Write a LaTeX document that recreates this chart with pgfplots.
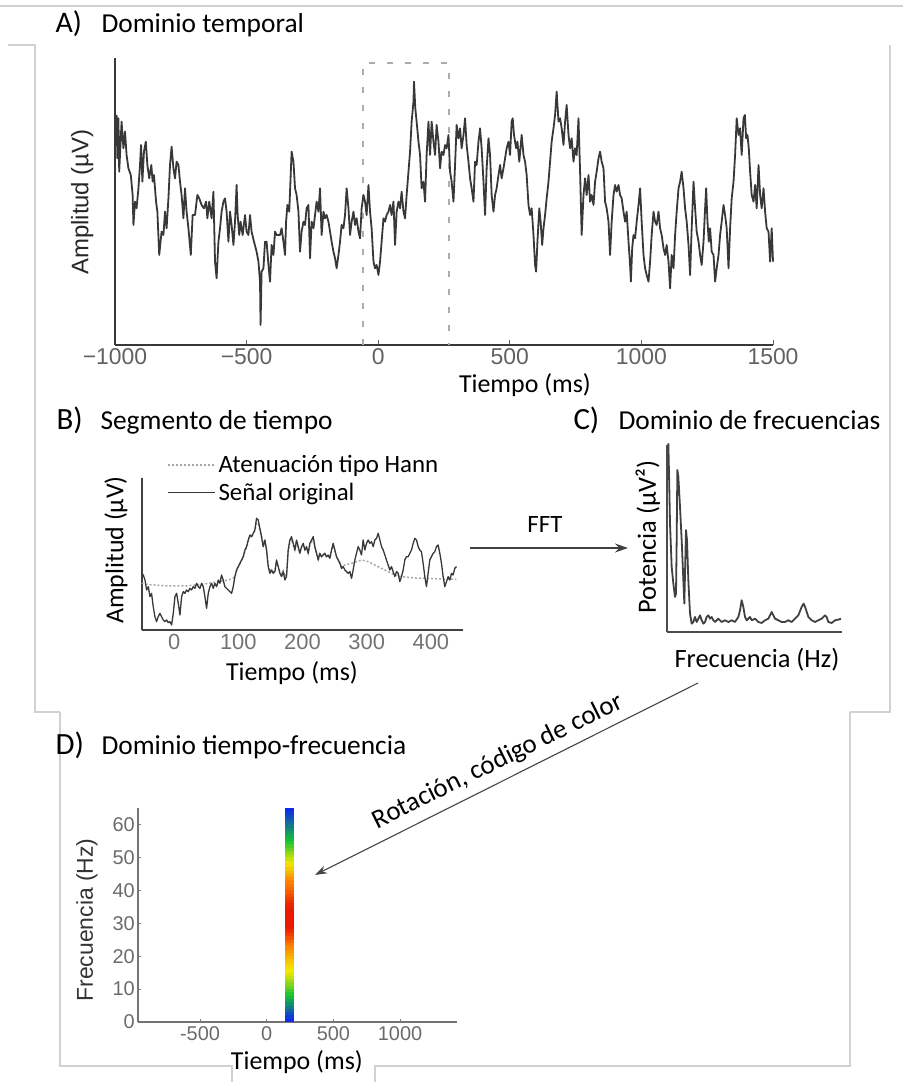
\documentclass[border=0pt]{standalone}
\usepackage{pgfplots}
\pgfplotsset{compat=1.18}
\usepackage{fontspec}
\setmainfont{Carlito}
\newfontfamily\arial{Liberation Sans}
\usetikzlibrary{arrows.meta}

\pgfplotstableread{
t a
-994 690
-991 560
-987 680
-984 520
-975 670
-968 590
-962 640
-956 570
-949 530
-940 510
-933 450
-930 360
-924 430
-918 410
-911 470
-905 540
-901 600
-896 490
-890 580
-883 610
-877 540
-870 500
-862 540
-857 490
-852 510
-844 430
-839 400
-832 270
-823 340
-816 330
-810 400
-804 350
-797 440
-791 540
-785 595
-778 530
-772 500
-766 550
-759 540
-753 490
-747 450
-740 380
-734 470
-728 400
-721 350
-712 270
-705 390
-696 390
-687 450
-680 440
-671 420
-662 410
-654 430
-649 380
-642 430
-633 380
-626 460
-620 250
-614 200
-607 310
-601 350
-595 400
-588 430
-582 440
-576 400
-569 310
-563 400
-557 360
-550 300
-544 370
-538 480
-534 390
-528 330
-523 370
-515 330
-506 390
-500 340
-493 330
-487 390
-481 340
-472 310
-462 280
-455 250
-449 190
-447 60
-443 220
-436 230
-430 310
-424 310
-417 240
-411 190
-405 300
-398 270
-392 340
-386 330
-373 330
-367 350
-360 310
-354 270
-350 370
-345 420
-338 400
-332 520
-329 580
-322 550
-316 470
-310 450
-303 400
-297 280
-291 340
-284 370
-278 360
-272 410
-265 420
-259 260
-253 370
-246 350
-240 390
-234 430
-227 400
-221 470
-215 330
-208 400
-202 380
-196 390
-189 370
-183 340
-177 310
-170 280
-164 260
-158 230
-151 270
-145 310
-139 360
-132 350
-126 390
-120 470
-113 410
-107 330
-101 370
-94 400
-88 360
-82 380
-75 340
-69 320
-63 410
-56 450
-50 430
-44 390
-37 480
-31 400
-25 350
-18 250
-12 230
-6 240
1 210
7 250
13 310
20 380
26 370
32 390
39 400
45 420
51 390
58 430
64 300
70 400
77 430
83 410
89 460
96 400
102 380
108 450
115 520
121 580
127 670
134 730
136 790
141 710
146 670
153 610
159 570
165 470
172 490
178 430
184 570
191 670
197 570
203 670
210 610
216 570
222 660
229 610
235 530
241 580
248 570
254 600
260 590
267 630
273 520
279 490
286 430
292 540
298 660
305 620
311 650
317 590
324 630
330 680
336 600
343 550
349 500
355 470
362 430
368 550
374 540
381 610
387 650
393 590
400 490
406 390
412 530
419 620
425 570
431 450
438 400
444 450
450 470
457 510
463 540
469 500
476 530
482 560
488 590
495 610
501 570
507 670
511 680
516 630
524 590
529 610
536 550
545 630
552 570
558 550
564 510
571 420
577 390
583 410
590 330
596 240
600 220
605 310
612 410
617 370
623 300
628 350
634 390
640 440
647 490
653 550
659 610
666 650
672 690
678 760
685 670
691 680
697 650
704 600
710 670
716 720
723 630
729 590
735 620
742 550
748 590
754 570
761 680
767 520
773 330
780 450
786 500
792 450
799 510
805 430
811 450
818 420
824 490
830 520
837 560
843 580
849 550
856 530
862 430
868 410
875 370
881 270
887 370
894 450
900 480
906 460
913 480
919 450
925 440
932 400
938 370
944 400
951 310
957 240
960 190
965 290
970 330
976 320
982 370
989 420
995 470
1001 370
1008 270
1014 230
1020 210
1027 190
1033 250
1039 330
1046 400
1052 370
1058 360
1065 400
1071 350
1077 330
1084 290
1090 270
1096 300
1103 250
1109 170
1115 270
1122 230
1128 330
1134 400
1141 470
1147 490
1153 520
1160 470
1166 410
1172 370
1179 300
1185 210
1191 350
1198 490
1204 410
1210 340
1217 310
1223 270
1229 240
1236 310
1242 410
1246 470
1251 370
1256 310
1261 350
1267 280
1274 270
1280 190
1286 230
1293 270
1299 330
1305 370
1312 420
1318 390
1324 350
1331 230
1337 350
1343 440
1350 490
1356 570
1362 680
1369 630
1375 650
1381 570
1388 680
1393 690
1398 620
1403 630
1408 590
1413 520
1419 450
1426 430
1432 480
1438 410
1445 540
1451 450
1457 410
1464 470
1470 400
1476 350
1483 340
1489 250
1495 350
1500 250
}\sigA

\pgfplotstableread{
t a
-50.6 170
-48.0 165
-45.4 150
-42.8 120
-40.2 130
-37.6 100
-35.1 110
-32.5 70
-29.9 40
-27.3 25
-24.7 40
-22.1 50
-19.5 40
-16.9 30
-14.3 25
-11.7 30
-9.1 22
-6.5 25
-3.9 15
-1.3 50
1.3 100
3.9 110
6.5 80
9.1 45
11.7 100
14.3 115
16.9 110
19.4 120
22.0 115
24.6 125
27.2 120
29.8 130
32.4 125
35.0 140
37.6 130
40.2 125
42.8 140
45.4 130
48.0 100
50.6 65
53.2 110
55.8 130
58.4 140
61.0 125
63.6 140
66.2 130
68.8 150
71.3 140
73.9 165
76.5 150
79.1 130
81.7 125
84.3 120
86.9 115
89.5 110
92.1 130
94.7 160
97.3 180
99.9 190
102.5 200
105.1 210
107.7 220
110.3 240
112.9 250
115.5 270
118.1 285
120.7 280
123.2 290
125.8 300
128.4 335
131.0 330
133.6 305
136.2 280
138.8 250
141.4 270
144.0 240
146.6 190
149.2 170
151.8 180
154.4 170
157.0 175
159.6 210
162.2 190
164.8 170
167.4 160
170.0 175
172.6 150
175.1 160
177.7 240
180.3 270
182.9 280
185.5 260
188.1 240
190.7 270
193.3 250
195.9 230
198.5 250
201.1 260
203.7 240
206.3 250
208.9 230
211.5 260
214.1 270
216.7 280
219.3 250
221.9 230
224.5 210
227.0 230
229.6 220
232.2 225
234.8 230
237.4 220
240.0 225
242.6 215
245.2 240
247.8 260
250.4 240
253.0 220
255.6 210
258.2 200
260.8 185
263.4 190
266.0 180
268.6 175
271.2 170
273.8 175
276.4 155
278.9 180
281.5 210
284.1 230
286.7 250
289.3 240
291.9 225
294.5 270
297.1 240
299.7 260
302.3 270
304.9 260
307.5 265
310.1 250
312.7 270
315.3 275
317.9 290
320.5 270
323.1 250
325.7 240
328.3 225
330.8 210
333.4 195
336.0 180
338.6 190
341.2 175
343.8 160
346.4 175
349.0 170
351.6 145
354.2 160
356.8 180
359.4 210
362.0 220
364.6 220
367.2 230
369.8 240
372.4 260
375.0 275
377.6 270
380.2 250
382.7 240
385.3 235
387.9 200
390.5 160
393.1 130
395.7 170
398.3 210
400.9 220
403.5 230
406.1 235
408.7 250
411.3 255
413.9 230
416.5 200
419.1 160
421.7 130
424.3 145
426.9 160
429.5 150
432.1 170
434.6 165
437.2 185
439.8 190
}\sigB

\pgfplotstableread{
t a
-50.6 140
-40.0 136
-29.9 135
-9.1 132
16.9 132
42.8 137
63.6 143
84.3 150
92.1 155
94.7 160
97.3 178
99.9 188
102.5 198
105.1 208
107.7 218
110.3 236
112.9 248
115.5 265
118.1 280
120.7 280
123.2 288
125.8 298
128.4 320
131.0 318
133.6 300
136.2 280
138.8 255
141.4 265
144.0 240
146.6 195
149.2 175
151.8 182
154.4 175
157.0 178
159.6 205
162.2 192
164.8 175
167.4 168
170.0 178
172.6 160
175.1 168
177.7 235
180.3 262
182.9 272
185.5 255
188.1 240
190.7 262
193.3 248
195.9 232
198.5 248
201.1 255
203.7 240
206.3 246
208.9 230
211.5 255
214.1 263
216.7 272
219.3 248
221.9 230
224.5 212
227.0 228
229.6 220
232.2 224
234.8 228
237.4 220
240.0 224
242.6 215
245.2 236
247.8 252
250.4 236
253.0 220
255.6 210
258.2 202
260.8 190
266.0 195
276.4 200
284.1 205
291.9 210
302.3 205
312.7 195
323.1 185
333.4 175
343.8 165
354.2 160
364.6 158
375.0 156
395.7 155
416.5 153
439.8 152
}\hannB

\pgfplotstableread{
f p
4 565
6 475
9 325
14 195
19 145
24 105
27 115
29 275
31 485
34 465
39 375
44 275
49 155
52 85
54 175
57 305
60 275
64 155
69 55
74 25
79 30
84 45
89 30
94 40
99 50
104 35
109 25
114 30
119 45
124 50
129 40
134 45
139 35
144 30
149 35
154 40
159 35
164 30
174 35
184 30
194 35
204 30
214 45
219 65
224 95
229 75
234 45
239 35
244 40
249 45
254 35
264 40
274 30
284 27
294 35
304 40
314 60
319 50
324 40
334 35
344 30
354 30
364 35
374 30
384 40
394 50
404 75
410 85
416 70
424 45
434 35
444 30
454 35
464 40
474 50
479 45
484 30
494 27
504 35
514 37
522 40
}\specC

\begin{document}
\begin{tikzpicture}[x=1bp,y=1bp]
\path[use as bounding box] (0,0) rectangle (903,1082);

% faint panel frames
\begin{scope}[draw=black!18, line width=1.2bp]
\draw (0,1076) -- (903,1076);
\draw (8,1037) -- (35,1037) -- (35,370) -- (60,370);
\draw (890,1037) -- (890,370) -- (850,370);
\draw (60,370) -- (60,16) -- (232,16) -- (232,0);
\draw (375,0) -- (375,16) -- (850,16) -- (850,370);
\end{scope}

% ---------------- Panel A ----------------
\node[anchor=base west, font=\fontsize{30}{32}\selectfont] at (52,1049) {A)};
\node[anchor=base west, font=\fontsize{27.5}{30}\selectfont] at (98,1049) {Dominio temporal};
\begin{axis}[
  at={(115bp,737bp)}, anchor=south west,
  scale only axis, width=658bp, height=287bp,
  xmin=-1000, xmax=1500, ymin=0, ymax=861,
  axis x line*=bottom, axis y line*=left,
  axis line style={draw=black!78, line width=1.5bp},
  xtick={-1000,-500,0,500,1000,1500},
  xticklabels={−1000,−500,0,500,1000,1500},
  ytick=\empty,
  tick align=inside, major tick length=5bp,
  tick style={draw=black!60, line width=1bp},
  xticklabel style={font=\arial\fontsize{23}{26}\selectfont, text=black!62, inner sep=3bp},
  xlabel={Tiempo (ms)},
  xlabel style={at={(axis description cs:0.623,-0.139)}, anchor=center, font=\fontsize{26}{30}\selectfont},
  ylabel={Amplitud (µV)},
  ylabel style={at={(axis description cs:-0.050,0.498)}, anchor=center, font=\arial\fontsize{24}{28}\selectfont, text=black!85},
  clip=false,
]
\addplot[draw=black!32, line width=1.2bp, dash pattern=on 6bp off 12bp]
  coordinates {(-58,0) (-58,846) (269,846) (269,0)};
\addplot[draw=black!78, line width=1.8bp, line join=round] table[x=t,y=a] {\sigA};
\end{axis}

% ---------------- Panel B ----------------
\node[anchor=base west, font=\fontsize{31}{33}\selectfont] at (53,652) {B)};
\node[anchor=base west, font=\fontsize{27.5}{30}\selectfont] at (97,652) {Segmento de tiempo};
\begin{axis}[
  at={(142bp,452bp)}, anchor=south west,
  scale only axis, width=321bp, height=152bp,
  xmin=-50, xmax=450, ymin=0, ymax=456,
  axis x line*=bottom, axis y line*=left,
  axis line style={draw=black!75, line width=1.5bp},
  xtick={0,100,200,300,400},
  xticklabels={0,100,200,300,400},
  ytick=\empty, major tick length=0bp,
  xticklabel style={font=\arial\fontsize{22}{26}\selectfont, text=black!55, inner sep=4bp},
  xlabel={Tiempo (ms)},
  xlabel style={at={(axis description cs:0.467,-0.283)}, anchor=center, font=\fontsize{26}{30}\selectfont},
  ylabel={Amplitud (µV)},
  ylabel style={at={(axis description cs:-0.081,0.526)}, anchor=center, font=\fontsize{26}{30}\selectfont},
  legend style={at={(axis description cs:0.079,1.165)}, anchor=north west, draw=none, fill=none,
    font=\fontsize{25}{27}\selectfont, row sep=4bp, inner sep=0bp, nodes={inner sep=2.5bp}},
  legend cell align=left,
  legend image code/.code={\draw[#1] (0bp,0bp) -- (47bp,0bp);},
  clip=false,
]
\addplot[draw=black!35, line width=1.5bp, dash pattern=on 2bp off 2bp] table[x=t,y=a] {\hannB};
\addlegendentry{Atenuación tipo Hann}
\addplot[draw=black!78, line width=1.3bp, line join=round] table[x=t,y=a] {\sigB};
\addlegendentry{Señal original}
\end{axis}

% FFT arrow
\draw[-{Stealth[length=13bp,width=9bp]}, line width=1.3bp, draw=black!75, fill=black!75] (470,534) -- (628,534);
\node[font=\fontsize{25}{28}\selectfont] at (545,557) {FFT};

% ---------------- Panel C ----------------
\node[anchor=base west, font=\fontsize{31}{33}\selectfont] at (570,652) {C)};
\node[anchor=base west, font=\fontsize{27.5}{30}\selectfont] at (615,652) {Dominio de frecuencias};
\begin{axis}[
  at={(667bp,450bp)}, anchor=south west,
  scale only axis, width=175bp, height=187bp,
  xmin=0, xmax=525, ymin=0, ymax=560,
  axis x line*=bottom, axis y line*=left,
  axis line style={draw=black!70, line width=1.5bp},
  xtick=\empty, ytick=\empty,
  xlabel={Frecuencia (Hz)},
  xlabel style={at={(axis description cs:0.514,-0.150)}, anchor=center, font=\fontsize{26.5}{30}\selectfont},
  ylabel={Potencia (µV²)},
  ylabel style={at={(axis description cs:-0.109,0.508)}, anchor=center, font=\fontsize{26.5}{30}\selectfont},
  clip=false,
]
\addplot[draw=black!75, line width=1.8bp, line join=round] table[x=f,y=p] {\specC};
\end{axis}

% ---------------- Panel D ----------------
\node[anchor=base west, font=\fontsize{31}{33}\selectfont] at (52,327) {D)};
\node[anchor=base west, font=\fontsize{27.5}{30}\selectfont] at (98,327) {Dominio tiempo-frecuencia};
\begin{axis}[
  at={(138bp,60bp)}, anchor=south west,
  scale only axis, width=319bp, height=214bp,
  xmin=-965, xmax=1427, ymin=0, ymax=65,
  axis x line*=bottom, axis y line*=left,
  axis line style={draw=black!55, line width=1.5bp},
  xtick={-500,0,500,1000}, xticklabels={-500,0,500,1000},
  ytick={0,10,20,30,40,50,60}, yticklabels={0,10,20,30,40,50,60},
  tick align=inside, major tick length=3bp,
  tick style={draw=black!50, line width=1bp},
  ticklabel style={font=\arial\fontsize{20}{24}\selectfont, text=black!58},
  xticklabel style={inner sep=4bp},
  yticklabel style={inner sep=3bp},
  xlabel={Tiempo (ms)},
  xlabel style={at={(axis description cs:0.498,-0.187)}, anchor=center, font=\fontsize{26}{30}\selectfont},
  ylabel={Frecuencia (Hz)},
  ylabel style={at={(axis description cs:-0.160,0.477)}, anchor=center, font=\arial\fontsize{23}{27}\selectfont, text=black!80},
  colormap={tf}{rgb255(0cm)=(15,35,245); rgb255(1cm)=(20,195,50); rgb255(2cm)=(240,232,0); rgb255(3cm)=(255,135,0); rgb255(4cm)=(235,25,0)},
  point meta min=0, point meta max=4,
  clip=false,
]
\addplot[mesh, point meta=explicit, line width=9bp, line cap=butt] coordinates {
(171,0) [0.0] (171,1) [0.1] (171,2) [0.2] (171,3) [0.35] (171,4) [0.5]
(171,5) [0.6] (171,6) [0.75] (171,7) [0.9] (171,8) [1.0] (171,9) [1.15]
(171,10) [1.3] (171,11) [1.45] (171,12) [1.6] (171,13) [1.75] (171,14) [1.85]
(171,15) [1.95] (171,16) [2.05] (171,17) [2.15] (171,18) [2.3] (171,19) [2.45]
(171,20) [2.6] (171,21) [2.75] (171,22) [2.9] (171,23) [3.05] (171,24) [3.2]
(171,25) [3.4] (171,26) [3.6] (171,27) [3.75] (171,28) [3.9] (171,29) [4.0]
(171,30) [4.0] (171,31) [4.0] (171,32) [4.0] (171,33) [4.0] (171,34) [4.0]
(171,35) [3.95] (171,36) [3.85] (171,37) [3.75] (171,38) [3.6] (171,39) [3.45]
(171,40) [3.3] (171,41) [3.2] (171,42) [3.1] (171,43) [3.0] (171,44) [2.8]
(171,45) [2.6] (171,46) [2.4] (171,47) [2.2] (171,48) [2.0] (171,49) [1.9]
(171,50) [1.75] (171,51) [1.6] (171,52) [1.45] (171,53) [1.3] (171,54) [1.15]
(171,55) [1.0] (171,56) [0.9] (171,57) [0.8] (171,58) [0.7] (171,59) [0.6]
(171,60) [0.5] (171,61) [0.4] (171,62) [0.3] (171,63) [0.2] (171,64) [0.1]
(171,65) [0.0]
};
\end{axis}

% Rotation arrow
\draw[-{Stealth[length=12bp,width=8bp]}, line width=1.1bp, draw=black!72, fill=black!72] (698,399) -- (315,207);
\node[rotate=26.3, anchor=base, font=\fontsize{27}{30}\selectfont] at (501,314) {Rotación, código de color};

\end{tikzpicture}
\end{document}
